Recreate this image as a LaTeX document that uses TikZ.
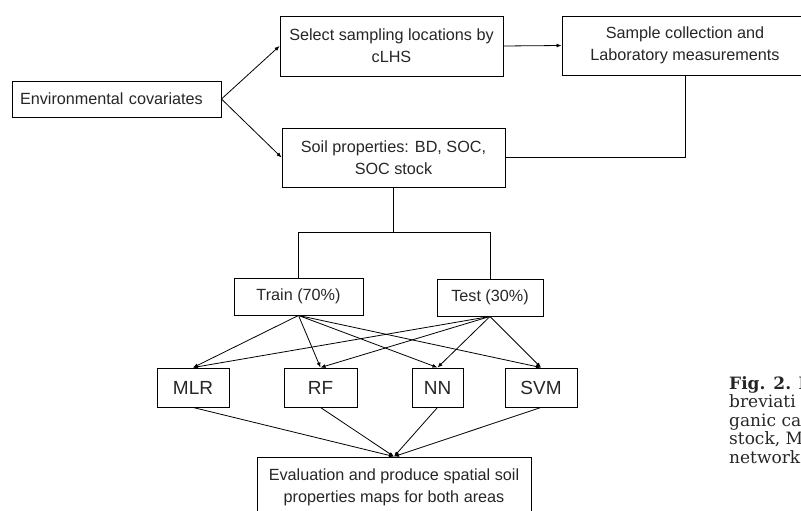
\documentclass[tikz,border=0pt]{standalone}
\usepackage{fontspec}
\setmainfont{Liberation Sans}
\newfontfamily\capfont{DejaVu Serif}
\usetikzlibrary{arrows.meta, positioning, calc}

\begin{document}
\begin{tikzpicture}[x=1pt, y=-1pt,
  box/.style={draw, line width=0.9pt, inner sep=0pt, align=center, text=black!85, font=\fontsize{16.2}{22}\selectfont},
  model/.style={box, minimum height=39pt, font=\fontsize{19}{22}\selectfont},
  arr/.style={-{Latex[length=5pt,width=4pt]}, line width=0.8pt}]
\useasboundingbox (0,0) rectangle (801,511);
\clip (0,0) rectangle (801,511);
% top row
\node[box, text width=193pt, inner xsep=8pt, align=left, minimum height=36pt] (env) at (116.5,99) {Environmental covariates};
\node[box, minimum width=223pt, minimum height=60pt] (sel) at (391.5,46) {Select sampling locations by\\cLHS};
\node[box, minimum width=246pt, minimum height=59pt] (samp) at (685,45.5) {Sample collection and\\Laboratory measurements};
\node[box, minimum width=223pt, minimum height=59pt] (soil) at (393.5,157.5) {Soil properties: BD, SOC,\\SOC stock};
% split
\node[box, minimum width=129pt, minimum height=37pt] (train) at (298.5,296.5) {Train (70\%)};
\node[box, minimum width=106pt, minimum height=37pt] (test) at (490,297.5) {Test (30\%)};
% models
\node[model, minimum width=72pt] (mlr) at (193,387.5) {MLR};
\node[model, minimum width=73pt] (rf) at (320.5,387.5) {RF};
\node[model, minimum width=51pt] (nn) at (437.5,387.5) {NN};
\node[model, minimum width=72pt] (svm) at (541,387.5) {SVM};
\node[box, minimum width=274pt, minimum height=60pt] (eval) at (394,487) {Evaluation and produce spatial soil\\properties maps for both areas};
% caption (cut at the page edge)
\node[anchor=north west, inner sep=0pt, align=left, text=black!85, font=\capfont\fontsize{17}{18.6}\selectfont] (cap) at (729,376) {\textbf{Fig. 2.} F\\breviati\\ganic ca\\stock, M\\network};

\coordinate (split) at ($(soil.south)+(0,45)$);
\draw[arr] (env.east) -- (sel.west);
\draw[arr] (env.east) -- (soil.west);
\draw[arr] (sel.east) -- (samp.west);
\draw[line width=0.9pt] (samp.south) |- (soil.east);
\draw[line width=0.9pt] (soil.south) -- (split);
\draw[line width=0.9pt] (train.north) |- (split) -| (test.north);
\foreach \m in {mlr, rf, nn, svm} {
  \draw[arr] (train.south) -- (\m.north);
  \draw[arr] (test.south) -- (\m.north);
  \draw[arr] (\m.south) -- (eval.north);
}
\end{tikzpicture}
\end{document}
